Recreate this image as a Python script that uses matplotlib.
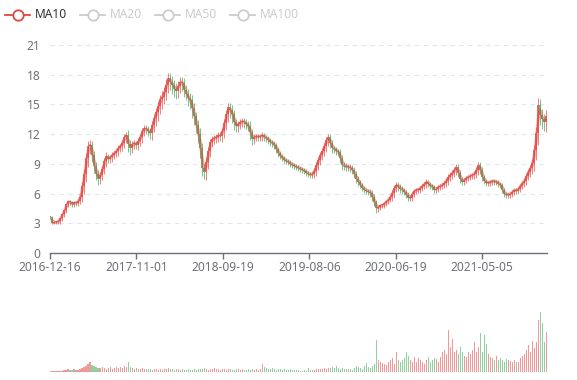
import numpy as np
import pandas as pd
import matplotlib
matplotlib.use("Agg")
import matplotlib.pyplot as plt
from matplotlib.lines import Line2D

plt.rcParams['font.family'] = ['Noto Sans', 'DejaVu Sans']

# one candle per ~5 trading days
close = [3.6, 3.05, 3.1, 3.1, 3.2, 3.5, 3.9, 4.3, 4.9, 5.2,
         5.1, 4.9, 5.1, 5.0, 5.3, 5.7, 6.8, 8.0, 9.6, 10.8,
         10.9, 9.9, 8.8, 8.0, 7.5, 7.9, 8.5, 9.3, 9.8, 9.5,
         9.7, 9.9, 10.1, 10.3, 10.6, 10.8, 11.1, 11.7, 11.9, 11.0,
         10.6, 11.0, 11.1, 10.9, 11.3, 11.7, 12.3, 12.6, 12.5, 12.3,
         12.1, 12.9, 13.6, 14.2, 14.8, 15.5, 15.8, 16.3, 17.0, 17.7,
         17.3, 17.0, 16.6, 16.4, 16.9, 17.3, 17.2, 16.5, 16.1, 15.6,
         15.4, 14.6, 13.8, 12.9, 12.0, 10.6, 8.6, 8.2, 9.2, 10.3,
         11.2, 11.5, 11.6, 11.7, 11.9, 11.8, 12.3, 13.1, 14.0, 14.7,
         14.4, 14.0, 13.2, 12.8, 13.0, 13.2, 13.3, 13.2, 13.0, 12.8,
         12.2, 11.5, 11.7, 11.8, 11.7, 11.8, 11.9, 11.7, 11.6, 11.4,
         11.2, 11.1, 10.9, 10.5, 10.1, 9.8, 9.6, 9.4, 9.3, 9.2,
         9.0, 8.9, 8.8, 8.7, 8.6, 8.5, 8.4, 8.3, 8.1, 8.0,
         7.9, 8.0, 8.3, 8.9, 9.4, 9.9, 10.3, 10.8, 11.4, 11.7,
         11.1, 10.6, 10.5, 10.3, 10.2, 9.6, 8.9, 8.8, 8.7, 8.7,
         8.6, 8.4, 8.0, 7.5, 7.2, 6.9, 6.6, 6.4, 6.3, 6.2,
         6.1, 5.7, 5.1, 4.5, 4.6, 4.8, 4.8, 5.0, 5.2, 5.4,
         5.7, 6.1, 6.6, 6.9, 6.7, 6.5, 6.4, 6.2, 5.9, 5.6,
         5.6, 6.0, 6.3, 6.4, 6.4, 6.6, 6.8, 7.0, 7.2, 7.0,
         6.8, 6.7, 6.4, 6.5, 6.7, 6.8, 6.9, 7.1, 7.3, 7.7,
         7.9, 8.1, 8.4, 8.7, 8.1, 7.5, 7.2, 7.4, 7.6, 7.7,
         7.8, 7.9, 8.0, 8.4, 8.9, 8.4, 7.7, 7.3, 7.1, 7.1,
         7.2, 7.3, 7.2, 7.2, 7.0, 6.9, 6.4, 6.0, 5.9, 5.9,
         6.0, 6.2, 6.4, 6.3, 6.5, 6.8, 7.1, 7.3, 7.8, 8.2,
         8.6, 9.1, 10.4, 12.1, 14.9, 13.9, 13.5, 13.2, 13.8]

# wick length beyond the body, per candle
spread = [0.2, 0.15, 0.15, 0.2, 0.2, 0.25, 0.25, 0.3, 0.3, 0.3,
          0.3, 0.25, 0.3, 0.25, 0.3, 0.4, 0.6, 0.8, 0.8, 0.9,
          0.8, 0.7, 0.7, 0.6, 0.6, 0.5, 0.5, 0.5, 0.6, 0.4,
          0.4, 0.5, 0.4, 0.4, 0.5, 0.4, 0.5, 0.5, 0.6, 0.8,
          0.7, 0.5, 0.5, 0.4, 0.5, 0.5, 0.6, 0.5, 0.5, 0.5,
          0.6, 0.7, 0.7, 0.8, 0.9, 0.8, 1.0, 0.8, 0.9, 0.8,
          0.8, 0.9, 0.8, 0.9, 0.8, 0.7, 0.8, 0.8, 0.7, 0.8,
          0.9, 1.0, 0.9, 0.8, 0.9, 1.0, 0.8, 0.7, 0.8, 0.7,
          0.6, 0.5, 0.5, 0.5, 0.5, 0.5, 0.6, 0.7, 0.7, 0.8,
          0.8, 0.9, 0.8, 0.6, 0.6, 0.5, 0.5, 0.6, 0.5, 0.5,
          0.8, 0.6, 0.5, 0.4, 0.4, 0.4, 0.5, 0.4, 0.4, 0.4,
          0.4, 0.4, 0.4, 0.4, 0.4, 0.3, 0.3, 0.3, 0.3, 0.3,
          0.3, 0.3, 0.3, 0.3, 0.3, 0.3, 0.3, 0.3, 0.3, 0.3,
          0.3, 0.3, 0.4, 0.5, 0.5, 0.5, 0.5, 0.5, 0.6, 0.6,
          0.5, 0.5, 0.4, 0.4, 0.4, 0.5, 0.5, 0.4, 0.4, 0.4,
          0.4, 0.4, 0.4, 0.4, 0.4, 0.3, 0.3, 0.3, 0.3, 0.3,
          0.4, 0.4, 0.4, 0.5, 0.4, 0.3, 0.3, 0.3, 0.3, 0.3,
          0.3, 0.4, 0.5, 0.4, 0.4, 0.4, 0.4, 0.3, 0.3, 0.4,
          0.4, 0.3, 0.3, 0.3, 0.3, 0.3, 0.3, 0.3, 0.4, 0.3,
          0.3, 0.3, 0.3, 0.3, 0.3, 0.3, 0.3, 0.3, 0.4, 0.4,
          0.4, 0.4, 0.4, 0.5, 0.4, 0.4, 0.3, 0.3, 0.3, 0.3,
          0.3, 0.3, 0.4, 0.4, 0.5, 0.4, 0.4, 0.3, 0.3, 0.3,
          0.3, 0.3, 0.3, 0.3, 0.3, 0.3, 0.3, 0.3, 0.3, 0.3,
          0.3, 0.3, 0.3, 0.3, 0.3, 0.3, 0.3, 0.4, 0.4, 0.4,
          0.5, 0.6, 0.8, 1.0, 1.2, 1.0, 1.0, 0.9, 1.0]

volume = [1, 1, 1, 1, 1, 1, 1,
          2, 2, 3, 2, 2, 3, 2, 2,
          3, 4, 5, 6, 8, 10, 7, 6, 5, 4,
          4, 5, 4, 3, 4, 5, 3, 4, 5, 4, 5, 4, 6, 5,
          10, 5, 4, 3, 4, 3, 3, 4, 3, 3, 3,
          3, 2, 3, 3, 2, 3, 2, 3, 3, 4, 3, 3, 2, 3, 3, 2, 3, 2, 2, 3, 2, 2, 3, 2, 3,
          3, 3, 4, 3, 2, 3, 3, 4, 3, 3, 2, 3, 3, 2, 3, 3, 2, 2, 3, 3, 2, 3, 2, 2, 3,
          2, 3, 2, 3, 2, 3, 8, 5, 4, 3, 3, 4, 3, 2, 3, 3, 2, 3, 2, 2, 3, 2, 2, 2, 2,
          1, 1, 2, 1, 4, 2, 2, 2, 3, 3, 3, 3, 4, 3, 4, 4, 5, 4, 6, 4, 3, 4, 3, 3, 3,
          3, 2, 4, 6, 5, 4, 3, 6, 9, 5, 4, 6,
          8, 32, 12, 10, 9, 8, 7, 10, 12, 14, 8, 20, 12,
          10, 12, 14, 20, 16, 12, 10, 15, 10, 14, 12, 10, 8, 12, 15, 10, 12, 14, 13, 10, 15, 20, 22, 18, 42,
          25, 33, 20, 22, 18, 25, 20, 16, 15, 20, 18, 22, 30, 20, 25, 39, 20, 37, 28, 18, 15, 14, 12, 16, 12,
          14, 12, 10, 13, 12, 11, 10, 12, 10, 10, 14, 16, 18, 22, 27, 20, 31, 24, 30, 52, 60, 49, 30, 40]

tick_labels = ['2016-12-16', '2017-11-01', '2018-09-19', '2019-08-06', '2020-06-19', '2021-05-05']
legend_names = ['MA10', 'MA20', 'MA50', 'MA100']

UP = '#eb5454'
DOWN = '#47b262'
MA_COLOR = '#e0483f'
AXIS = '#6E7079'

close = np.array(close)
spread = np.array(spread)
opn = np.concatenate([[close[0]], close[:-1]])
day = np.arange(len(close)) * 5          # trading-day index of each candle
up = close >= opn
colors = np.where(up, UP, DOWN)
ma10 = pd.Series(close).rolling(2).mean()

W, H = 577, 380
fig = plt.figure(figsize=(W / 100, H / 100), dpi=100)

def frac(x0, y0, x1, y1):
    return [x0 / W, 1 - y1 / H, (x1 - x0) / W, (y1 - y0) / H]

ax = fig.add_axes(frac(50, 45, 547, 253))
lo = np.minimum(opn, close)
hi = np.maximum(opn, close)
ax.vlines(day, lo - spread, hi + spread * 0.6, colors=colors, linewidth=0.7, alpha=0.75)
ax.bar(day, np.maximum(hi - lo, 0.1), bottom=lo, width=3.5, color=colors,
       linewidth=0, alpha=0.85)
ax.plot(day, ma10, color=MA_COLOR, lw=2.2, alpha=0.5, solid_capstyle='round')

ax.set_xlim(0, 1242)
ax.set_ylim(0, 21)
ax.set_yticks(range(0, 22, 3))
ax.set_xticks(np.arange(len(tick_labels)) * 216)
ax.set_xticklabels(tick_labels)
ax.grid(axis='y', color='#E0E6F1', linestyle=(0, (4, 4)), linewidth=0.8)
ax.set_axisbelow(True)
for s in ['top', 'right', 'left']:
    ax.spines[s].set_visible(False)
ax.spines['bottom'].set_color(AXIS)
ax.spines['bottom'].set_linewidth(1)
ax.tick_params(axis='y', length=0, pad=7, labelsize=8.6, labelcolor=AXIS)
ax.tick_params(axis='x', length=4, width=1, color=AXIS, pad=2, labelsize=8.6, labelcolor=AXIS)

vax = fig.add_axes(frac(50, 300, 547, 372))
vax.bar(day, volume, width=2.6, color=colors, linewidth=0, alpha=0.6)
vax.set_xlim(0, 1242)
vax.set_ylim(0, 72)
vax.axis('off')
vax.axhline(0, color=AXIS, lw=0.8, alpha=0.6)

# legend, ECharts style: line + hollow circle icon
icon_x = [5, 80, 155, 230]
for i, name in enumerate(legend_names):
    c = MA_COLOR if i == 0 else '#cccccc'
    tc = '#333333' if i == 0 else '#cccccc'
    x0 = icon_x[i]
    fig.add_artist(Line2D([x0 / W, (x0 + 25) / W], [1 - 15 / H] * 2, color=c, lw=1.3,
                          transform=fig.transFigure))
    fig.add_artist(Line2D([(x0 + 12.5) / W], [1 - 15 / H], marker='o', markersize=7.5,
                          markerfacecolor='white', markeredgecolor=c, markeredgewidth=1.3,
                          transform=fig.transFigure))
    fig.text((x0 + 30) / W, 1 - 15 / H, name, color=tc, fontsize=8.6, va='center', ha='left')

fig.savefig('out.png', dpi=100)
